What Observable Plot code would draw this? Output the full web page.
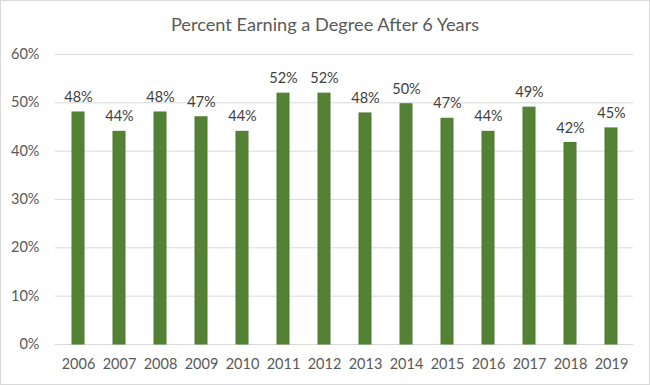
<!DOCTYPE html>
<html>
<head>
<meta charset="utf-8">
<script src="https://cdn.jsdelivr.net/npm/d3@7"></script>
<script src="https://cdn.jsdelivr.net/npm/@observablehq/plot@0.6"></script>
<style>
  html, body { margin: 0; padding: 0; background: #fff; }
  #wrap { width: 650px; height: 385px; box-sizing: border-box; border: 1px solid #d9d9d9; background: #fff; font-family: Lato, "Open Sans", sans-serif; }
  #title { height: 43px; line-height: 46px; text-align: center; font-size: 18.2px; color: #595959; }
</style>
</head>
<body>
<div id="wrap">
  <div id="title">Percent Earning a Degree After 6 Years</div>
  <div id="chart"></div>
</div>
<script>
const years = ["2006","2007","2008","2009","2010","2011","2012","2013","2014","2015","2016","2017","2018","2019"];
const percents = [48, 44, 48, 47, 44, 51.9, 51.9, 47.8, 49.7, 46.7, 44, 49, 41.7, 44.7];
const yTicks = [0, 10, 20, 30, 40, 50, 60];

const data = years.map((year, i) => ({year, value: percents[i]}));

const chart = Plot.plot({
  width: 648,
  height: 340,
  marginTop: 10,
  marginBottom: 40,
  marginLeft: 54,
  marginRight: 16,
  style: {fontFamily: "Lato, 'Open Sans', sans-serif", fontSize: "14.5px", color: "#595959", background: "#fff"},
  x: {domain: years, paddingInner: 0.71, paddingOuter: 0.355, label: null, tickSize: 0, tickPadding: 14},
  y: {domain: [0, 60], ticks: yTicks, label: null, tickSize: 0, tickPadding: 16, tickFormat: d => d + "%"},
  marks: [
    Plot.gridY(yTicks, {stroke: "#d9d9d9", strokeOpacity: 1, strokeWidth: 1}),
    Plot.barY(data, {x: "year", y: "value", fill: "#548235", stroke: "#4d7a30", strokeWidth: 1}),
    Plot.text(data, {x: "year", y: "value", text: d => Math.round(d.value) + "%", dy: -15, lineAnchor: "middle", fill: "#404040", fontSize: 14.5}),
    Plot.axisX({tickSize: 0, tickPadding: 14, fill: "#595959"}),
    Plot.axisY(yTicks, {tickSize: 0, tickPadding: 16, tickFormat: d => d + "%", fill: "#595959"})
  ]
});
document.getElementById("chart").appendChild(chart);
</script>
</body>
</html>
